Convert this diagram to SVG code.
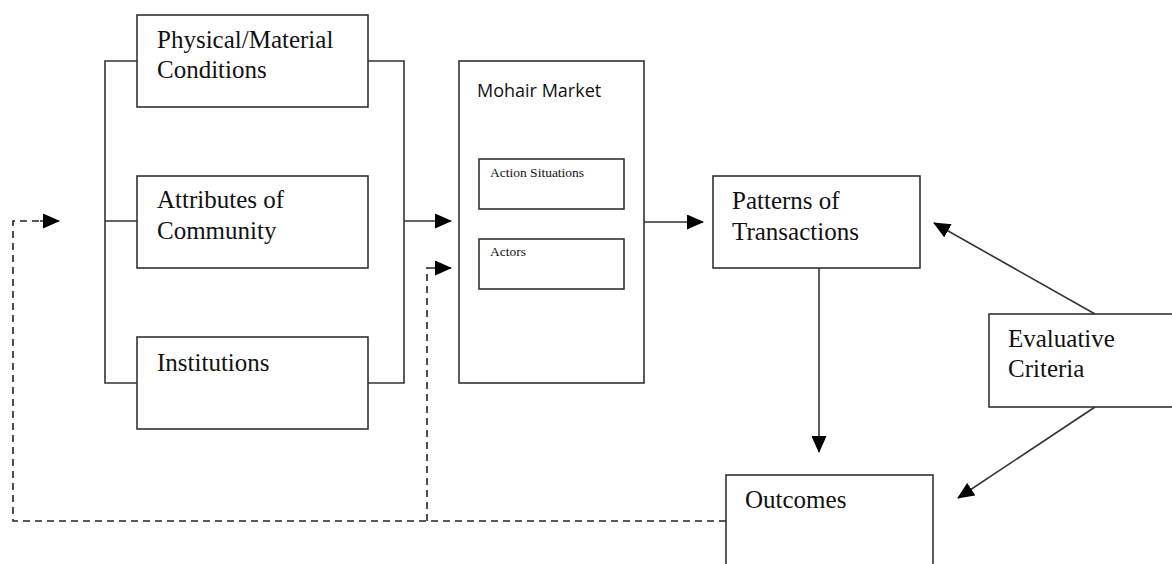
<svg xmlns="http://www.w3.org/2000/svg" width="1172" height="564" viewBox="0 0 1172 564">
<style>
.box{fill:#fff;stroke:#333;stroke-width:1.6}
.ln{fill:none;stroke:#333;stroke-width:1.6}
.dash{fill:none;stroke:#222;stroke-width:1.6;stroke-dasharray:7,5}
.t{font-family:"Liberation Serif","Times New Roman",serif;font-size:25px;fill:#111}
.s{font-family:"Liberation Serif","Times New Roman",serif;font-size:13.5px;fill:#111}
.m{font-family:"Open Sans","Liberation Sans",Arial,sans-serif;font-size:18px;fill:#111}
</style>
<defs>
<marker id="ah" markerWidth="17" markerHeight="15" refX="16" refY="7.5" orient="auto" markerUnits="userSpaceOnUse">
<path d="M0,0 L17,7.5 L0,15 Z" fill="#000"/>
</marker>
</defs>
<rect width="1172" height="564" fill="#fff"/>
<g id="connectors">
<path class="ln" d="M137,61 H105 V383 H137 M105,221 H137"/>
<path class="ln" d="M368,61 H404 V383 H368"/>
<path class="ln" d="M404,221 H451" marker-end="url(#ah)"/>
<path class="ln" d="M644,222 H703" marker-end="url(#ah)"/>
<path class="ln" d="M819,268 V452" marker-end="url(#ah)"/>
<path class="ln" d="M1095,314 L934,223" marker-end="url(#ah)"/>
<path class="ln" d="M1095,407 L958,498" marker-end="url(#ah)"/>
<path class="dash" d="M726,521 H13 V221 H40"/>
<path class="ln" d="M40,221 H59" marker-end="url(#ah)"/>
<path class="dash" d="M427,521 V268 H432"/>
<path class="ln" d="M432,268 H451" marker-end="url(#ah)"/>
</g>
<g id="physical">
<rect class="box" x="137" y="15" width="231" height="92"/>
<text class="t" x="157" y="48">Physical/Material</text>
<text class="t" x="157" y="78">Conditions</text>
</g>
<g id="attributes">
<rect class="box" x="137" y="176" width="231" height="92"/>
<text class="t" x="157" y="208">Attributes of</text>
<text class="t" x="157" y="239">Community</text>
</g>
<g id="institutions">
<rect class="box" x="137" y="337" width="231" height="92"/>
<text class="t" x="157" y="371">Institutions</text>
</g>
<g id="mohair">
<rect class="box" x="459" y="61" width="185" height="322"/>
<text class="m" x="477" y="97">Mohair Market</text>
</g>
<g id="action-situations">
<rect class="box" x="479" y="159" width="145" height="50"/>
<text class="s" x="490" y="177">Action Situations</text>
</g>
<g id="actors">
<rect class="box" x="479" y="239" width="145" height="50"/>
<text class="s" x="490" y="256">Actors</text>
</g>
<g id="patterns">
<rect class="box" x="713" y="176" width="207" height="92"/>
<text class="t" x="732" y="209">Patterns of</text>
<text class="t" x="732" y="240">Transactions</text>
</g>
<g id="outcomes">
<rect class="box" x="726" y="475" width="207" height="100"/>
<text class="t" x="745" y="508">Outcomes</text>
</g>
<g id="evaluative">
<rect class="box" x="989" y="314" width="200" height="93"/>
<text class="t" x="1008" y="347">Evaluative</text>
<text class="t" x="1008" y="377">Criteria</text>
</g>
</svg>
